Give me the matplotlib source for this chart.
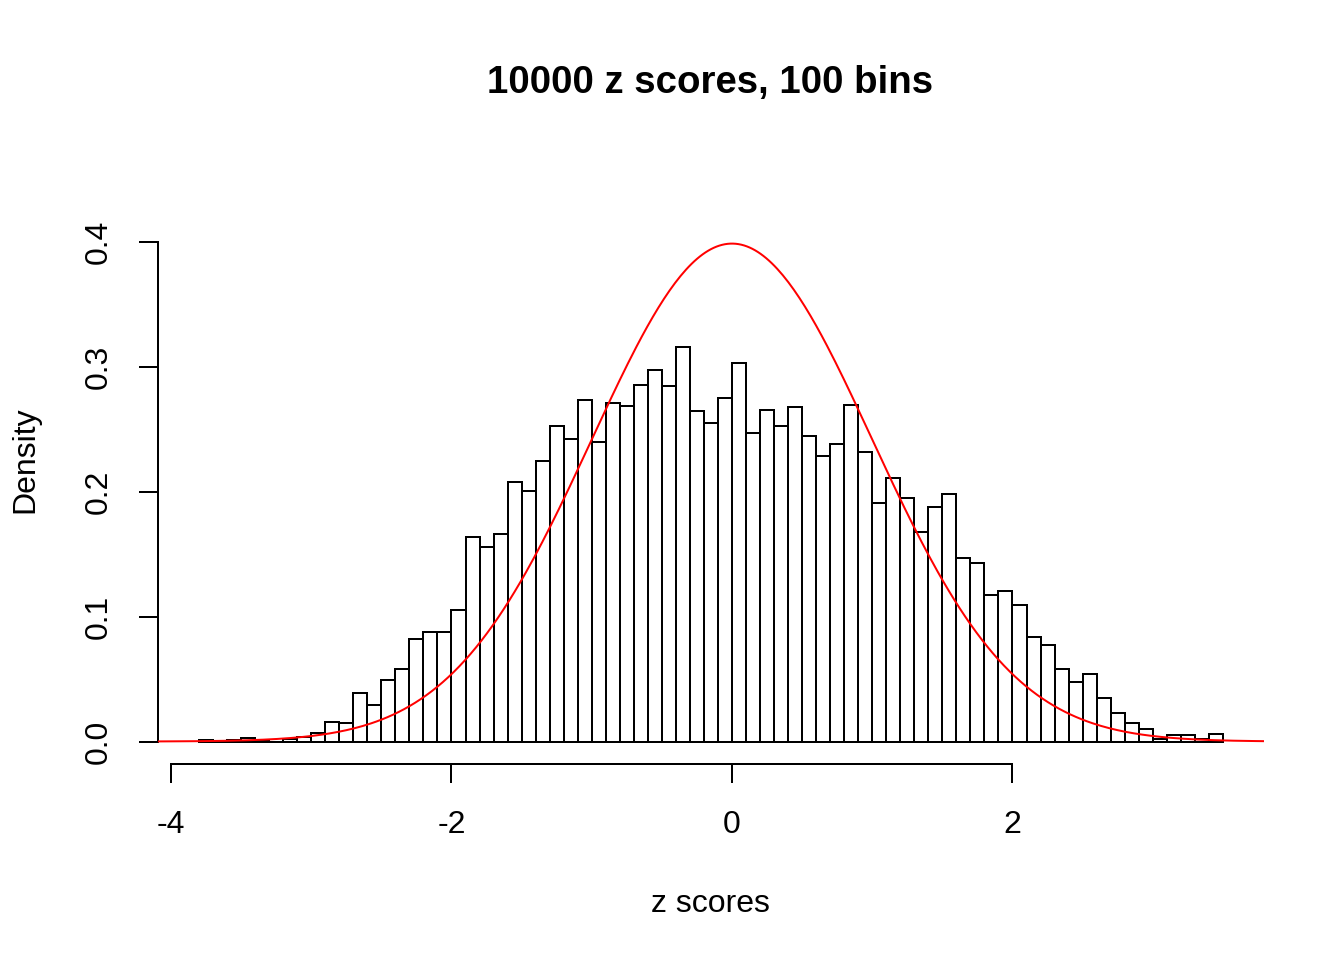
import numpy as np
import matplotlib
matplotlib.use("Agg")
import matplotlib.pyplot as plt

# Histogram of z scores: bin edges step 0.1 from -3.8 to 3.5, density per bin
bin_left = np.round(np.arange(-3.8, 3.45, 0.1), 1)
bin_width = 0.1
density = [
    0.001, 0.000, 0.001, 0.003, 0.001, 0.000, 0.002, 0.004, 0.007, 0.016,
    0.015, 0.039, 0.029, 0.049, 0.058, 0.082, 0.088, 0.088, 0.105, 0.164,
    0.156, 0.166, 0.208, 0.201, 0.225, 0.253, 0.242, 0.274, 0.240, 0.271,
    0.269, 0.286, 0.298, 0.285, 0.316, 0.265, 0.255, 0.275, 0.303, 0.247,
    0.266, 0.253, 0.268, 0.245, 0.229, 0.238, 0.270, 0.232, 0.191, 0.211,
    0.195, 0.168, 0.188, 0.198, 0.147, 0.143, 0.117, 0.121, 0.109, 0.084,
    0.077, 0.058, 0.048, 0.054, 0.035, 0.023, 0.015, 0.010, 0.002, 0.005,
    0.005, 0.002, 0.006,
]
x_ticks = [-4, -2, 0, 2]
y_ticks = [0.0, 0.1, 0.2, 0.3, 0.4]

plt.rcParams["font.family"] = ["Liberation Sans", "DejaVu Sans"]

fig = plt.figure(figsize=(7, 5), dpi=192)
ax = fig.add_axes([158.1 / 1344, (960 - 764) / 960,
                   (1263.8 - 158.1) / 1344, (764 - 157.4) / 960])

ax.bar(bin_left, density, width=bin_width, align="edge",
       facecolor="white", edgecolor="black", linewidth=0.75, zorder=2)

# R-style axis ranges (4% extension)
xmin, xmax = -3.8, 3.5
xr = xmax - xmin
ax.set_xlim(xmin - 0.04 * xr, xmax + 0.04 * xr)
ax.set_ylim(-0.018, 0.468)

xs = np.linspace(*ax.get_xlim(), 401)
ax.plot(xs, np.exp(-xs ** 2 / 2) / np.sqrt(2 * np.pi), color="red",
        linewidth=0.75, zorder=3)

for s in ("top", "right"):
    ax.spines[s].set_visible(False)
ax.spines["left"].set_bounds(0.0, 0.4)
ax.spines["bottom"].set_bounds(-4, 2)
for s in ("left", "bottom"):
    ax.spines[s].set_linewidth(0.75)

ax.set_xticks(x_ticks)
ax.set_xticklabels([str(t) for t in x_ticks])
ax.set_yticks(y_ticks)
ax.set_yticklabels([f"{t:.1f}" for t in y_ticks])
ax.tick_params(axis="both", direction="out", length=7.2, width=0.75,
               labelsize=12, colors="black")
ax.tick_params(axis="x", pad=10)
ax.tick_params(axis="y", pad=9.5, labelrotation=90)
for lbl in ax.get_yticklabels():
    lbl.set_va("center")

fig.text(710 / 1344, 1 - 83 / 960, "10000 z scores, 100 bins",
         ha="center", va="center", fontsize=14.4, fontweight="bold")
fig.text(710 / 1344, 1 - 904 / 960, "z scores",
         ha="center", va="center", fontsize=12)
fig.text(25 / 1344, 1 - 460 / 960, "Density", rotation=90,
         ha="center", va="center", fontsize=12)

fig.savefig("out.png", dpi=192, facecolor="white")
